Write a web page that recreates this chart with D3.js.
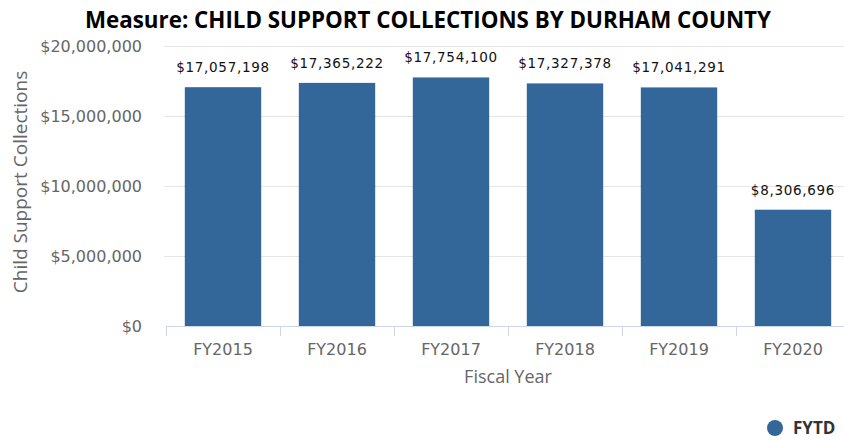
<!DOCTYPE html>
<html>
<head>
<meta charset="utf-8">
<script src="https://cdn.jsdelivr.net/npm/d3@7"></script>
<style>
  body { margin: 0; background: #fff; }
  svg { display: block; font-family: "Open Sans", "DejaVu Sans", sans-serif; }
</style>
</head>
<body>
<div id="chart"></div>
<script>
const years = ['FY2015', 'FY2016', 'FY2017', 'FY2018', 'FY2019', 'FY2020'];
const collections = [17057198, 17365222, 17754100, 17327378, 17041291, 8306696];
const yTicks = [0, 5000000, 10000000, 15000000, 20000000];
const seriesName = 'FYTD';

const width = 844, height = 440;
const plotLeft = 166, plotRight = 850, plotTop = 46, plotBottom = 326;
const barColor = '#336699';

const svg = d3.select('#chart').append('svg')
  .attr('width', width)
  .attr('height', height);

const x = d3.scaleBand()
  .domain(years)
  .range([plotLeft, plotRight])
  .paddingInner(0.33)
  .paddingOuter(0.165);

const y = d3.scaleLinear()
  .domain([0, 20000000])
  .range([plotBottom, plotTop]);

const money = d3.format('$,');

// title
svg.append('text')
  .attr('x', 428)
  .attr('y', 28)
  .attr('text-anchor', 'middle')
  .attr('textLength', 686)
  .attr('lengthAdjust', 'spacingAndGlyphs')
  .style('font-weight', 'bold')
  .style('font-size', '24px')
  .style('fill', '#000')
  .text('Measure: CHILD SUPPORT COLLECTIONS BY DURHAM COUNTY');

// gridlines
svg.append('g')
  .selectAll('line')
  .data(yTicks.slice(1))
  .enter()
  .append('line')
  .attr('x1', plotLeft - 2)
  .attr('x2', width)
  .attr('y1', d => Math.round(y(d)) + 0.5)
  .attr('y2', d => Math.round(y(d)) + 0.5)
  .attr('stroke', '#e6e6e6');

// y axis labels
const yAxis = svg.append('g')
  .attr('transform', `translate(142,0)`)
  .call(d3.axisLeft(y).tickValues(yTicks).tickFormat(money).tickSize(0).tickPadding(0));
yAxis.select('.domain').remove();
yAxis.selectAll('text')
  .attr('dy', '0.37em')
  .style('font-family', '"DejaVu Sans", sans-serif')
  .style('font-size', '16px')
  .style('fill', '#666');

svg.append('text')
  .attr('transform', 'translate(27,182) rotate(-90)')
  .attr('text-anchor', 'middle')
  .style('font-size', '19px')
  .style('fill', '#666')
  .text('Child Support Collections');

// bars
svg.append('g')
  .selectAll('rect')
  .data(collections)
  .enter()
  .append('rect')
  .attr('x', (d, i) => x(years[i]))
  .attr('y', d => y(d))
  .attr('width', x.bandwidth())
  .attr('height', d => y(0) - y(d))
  .attr('fill', barColor);

// value labels
svg.append('g')
  .selectAll('text')
  .data(collections)
  .enter()
  .append('text')
  .attr('x', (d, i) => x(years[i]) + x.bandwidth() / 2)
  .attr('y', d => y(d) - 15)
  .attr('text-anchor', 'middle')
  .style('font-family', '"DejaVu Sans", sans-serif')
  .style('font-size', '13.5px')
  .style('letter-spacing', '0.7px')
  .style('fill', '#111')
  .text(d => money(d));

// x axis
const step = x.step();
const xAxis = svg.append('g')
  .attr('transform', `translate(0,${plotBottom})`);
xAxis.append('line')
  .attr('x1', plotLeft)
  .attr('x2', width)
  .attr('y1', 0.5)
  .attr('y2', 0.5)
  .attr('stroke', '#ccd6eb');
xAxis.selectAll('.tick')
  .data(years)
  .enter()
  .append('line')
  .attr('x1', d => Math.round(x(d) - (step - x.bandwidth()) / 2) + 0.5)
  .attr('x2', d => Math.round(x(d) - (step - x.bandwidth()) / 2) + 0.5)
  .attr('y1', 0)
  .attr('y2', 10)
  .attr('stroke', '#ccd6eb');
xAxis.selectAll('.lbl')
  .data(years)
  .enter()
  .append('text')
  .attr('x', d => x(d) + x.bandwidth() / 2)
  .attr('y', 29)
  .attr('text-anchor', 'middle')
  .style('font-family', '"DejaVu Sans", sans-serif')
  .style('font-size', '16px')
  .style('fill', '#666')
  .text(d => d);

svg.append('text')
  .attr('x', 508)
  .attr('y', 383)
  .attr('text-anchor', 'middle')
  .style('font-size', '18px')
  .style('fill', '#666')
  .text('Fiscal Year');

// legend
const legend = svg.append('g').attr('transform', 'translate(775,428)');
legend.append('circle').attr('r', 8).attr('fill', barColor);
legend.append('text')
  .attr('x', 18)
  .attr('y', 6)
  .style('font-size', '17px')
  .style('font-weight', 'bold')
  .style('fill', '#333')
  .text(seriesName);
</script>
</body>
</html>
